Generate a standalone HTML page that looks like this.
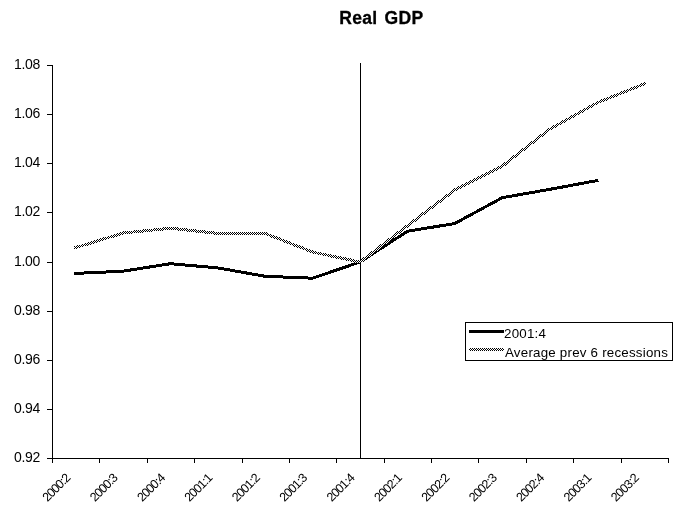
<!DOCTYPE html>
<html><head><meta charset="utf-8"><title>Real GDP</title>
<style>
html,body{margin:0;padding:0;background:#fff;}
body{width:682px;height:517px;overflow:hidden;}
svg{display:block;}
text{font-family:"Liberation Sans",sans-serif;fill:#000;}
.t{font-size:17.5px;font-weight:bold;letter-spacing:0.35px;word-spacing:1.8px;stroke:#000;stroke-width:0.3px;}
.y{font-size:14px;letter-spacing:-0.3px;}
.x{font-size:12.5px;letter-spacing:-0.9px;}
.l{font-size:13.33px;letter-spacing:0.22px;}
</style></head><body>
<svg width="682" height="517" viewBox="0 0 682 517">
<defs><pattern id="ck" width="2" height="2" patternUnits="userSpaceOnUse"><rect width="2" height="2" fill="#fff"/><rect x="0" y="0" width="1" height="1" fill="#000"/><rect x="1" y="1" width="1" height="1" fill="#000"/></pattern></defs>
<rect width="682" height="517" fill="#fff"/>
<text class="t" x="339.2" y="23.6">Real GDP</text>
<g shape-rendering="crispEdges" stroke="#000" stroke-width="1" fill="none">
<line x1="52.5" y1="65" x2="52.5" y2="459"/>
<line x1="52" y1="458.5" x2="669" y2="458.5"/>
<line x1="47" y1="65.5" x2="52" y2="65.5"/>
<line x1="47" y1="114.5" x2="52" y2="114.5"/>
<line x1="47" y1="163.5" x2="52" y2="163.5"/>
<line x1="47" y1="212.5" x2="52" y2="212.5"/>
<line x1="47" y1="262.5" x2="52" y2="262.5"/>
<line x1="47" y1="311.5" x2="52" y2="311.5"/>
<line x1="47" y1="360.5" x2="52" y2="360.5"/>
<line x1="47" y1="409.5" x2="52" y2="409.5"/>
<line x1="47" y1="458.5" x2="52" y2="458.5"/>
<line x1="52.5" y1="458" x2="52.5" y2="463"/>
<line x1="99.5" y1="458" x2="99.5" y2="463"/>
<line x1="147.5" y1="458" x2="147.5" y2="463"/>
<line x1="194.5" y1="458" x2="194.5" y2="463"/>
<line x1="242.5" y1="458" x2="242.5" y2="463"/>
<line x1="289.5" y1="458" x2="289.5" y2="463"/>
<line x1="336.5" y1="458" x2="336.5" y2="463"/>
<line x1="384.5" y1="458" x2="384.5" y2="463"/>
<line x1="431.5" y1="458" x2="431.5" y2="463"/>
<line x1="478.5" y1="458" x2="478.5" y2="463"/>
<line x1="526.5" y1="458" x2="526.5" y2="463"/>
<line x1="573.5" y1="458" x2="573.5" y2="463"/>
<line x1="621.5" y1="458" x2="621.5" y2="463"/>
<line x1="668.5" y1="458" x2="668.5" y2="463"/>
<line x1="360.5" y1="63" x2="360.5" y2="458"/>
</g>
<g shape-rendering="crispEdges" fill="none" stroke-width="3" stroke-linejoin="round" stroke-linecap="square">
<polyline stroke="#000" points="75.7,273.4 123.1,271.2 170.5,263.7 217.8,267.9 265.2,276.3 312.6,278.2 360.0,262.0 407.4,231.3 454.8,223.5 502.2,197.7 549.5,189.4 596.9,180.6"/>
<polyline stroke="url(#ck)" points="75.7,247.6 123.1,233.0 170.5,228.2 217.8,233.4 265.2,233.5 312.6,252.0 360.0,262.0 407.4,225.8 454.8,189.9 502.2,166.2 549.5,129.3 596.9,102.9 644.3,83.9"/>
</g>
<text class="y" x="40" y="68.6" text-anchor="end">1.08</text>
<text class="y" x="40" y="117.6" text-anchor="end">1.06</text>
<text class="y" x="40" y="166.6" text-anchor="end">1.04</text>
<text class="y" x="40" y="215.6" text-anchor="end">1.02</text>
<text class="y" x="40" y="265.6" text-anchor="end">1.00</text>
<text class="y" x="40" y="314.6" text-anchor="end">0.98</text>
<text class="y" x="40" y="363.6" text-anchor="end">0.96</text>
<text class="y" x="40" y="412.6" text-anchor="end">0.94</text>
<text class="y" x="40" y="461.6" text-anchor="end">0.92</text>
<text class="x" text-anchor="end" transform="translate(70.7,479) rotate(-45)">2000:2</text>
<text class="x" text-anchor="end" transform="translate(118.1,479) rotate(-45)">2000:3</text>
<text class="x" text-anchor="end" transform="translate(165.5,479) rotate(-45)">2000:4</text>
<text class="x" text-anchor="end" transform="translate(212.8,479) rotate(-45)">2001:1</text>
<text class="x" text-anchor="end" transform="translate(260.2,479) rotate(-45)">2001:2</text>
<text class="x" text-anchor="end" transform="translate(307.6,479) rotate(-45)">2001:3</text>
<text class="x" text-anchor="end" transform="translate(355.0,479) rotate(-45)">2001:4</text>
<text class="x" text-anchor="end" transform="translate(402.4,479) rotate(-45)">2002:1</text>
<text class="x" text-anchor="end" transform="translate(449.8,479) rotate(-45)">2002:2</text>
<text class="x" text-anchor="end" transform="translate(497.2,479) rotate(-45)">2002:3</text>
<text class="x" text-anchor="end" transform="translate(544.5,479) rotate(-45)">2002:4</text>
<text class="x" text-anchor="end" transform="translate(591.9,479) rotate(-45)">2003:1</text>
<text class="x" text-anchor="end" transform="translate(639.3,479) rotate(-45)">2003:2</text>
<g shape-rendering="crispEdges"><rect x="465.5" y="322.5" width="207" height="38" fill="#fff" stroke="#000" stroke-width="1"/>
<line x1="469" y1="331.5" x2="504" y2="331.5" stroke="#000" stroke-width="3"/>
<line x1="469" y1="349.5" x2="504" y2="349.5" stroke="url(#ck)" stroke-width="3"/></g>
<text class="l" x="504" y="338">2001:4</text>
<text class="l" x="505" y="357">Average prev 6 recessions</text>
</svg></body></html>
